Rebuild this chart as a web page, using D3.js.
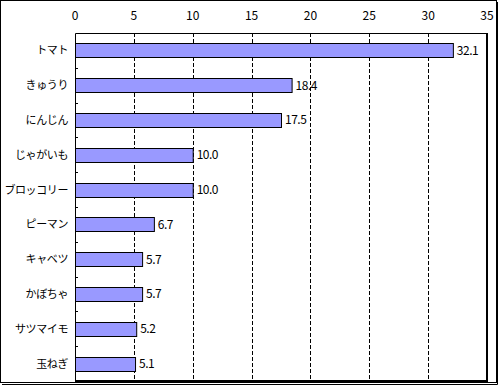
<!DOCTYPE html>
<html>
<head>
<meta charset="utf-8">
<script src="https://cdn.jsdelivr.net/npm/d3@7"></script>
<style>
  body { margin: 0; background: #fff; }
  svg { display: block; font-family: "Noto Sans CJK JP", sans-serif; }
</style>
</head>
<body>
<svg id="chart" width="500" height="385"></svg>
<script>
const categories = ["トマト", "きゅうり", "にんじん", "じゃがいも", "ブロッコリー", "ピーマン", "キャベツ", "かぼちゃ", "サツマイモ", "玉ねぎ"];
const values = [32.1, 18.4, 17.5, 10.0, 10.0, 6.7, 5.7, 5.7, 5.2, 5.1];
const xTicks = [0, 5, 10, 15, 20, 25, 30, 35];

const data = categories.map((c, i) => ({ name: c, value: values[i] }));

const svg = d3.select("#chart");

// outer frame with shadow on right/bottom
svg.append("rect")
  .attr("x", 0.5).attr("y", 0.5)
  .attr("width", 496).attr("height", 382)
  .attr("fill", "#fff").attr("stroke", "#000");
svg.append("path")
  .attr("d", "M497.5,2V384.5H2")
  .attr("fill", "none").attr("stroke", "#000");

const plotL = 75, plotT = 33, plotR = 487, plotB = 381;

const x = d3.scaleLinear().domain([0, 35]).range([plotL, plotR]);
const y = d3.scaleBand()
  .domain(categories)
  .range([plotT, plotB])
  .paddingInner(0.6)
  .paddingOuter(0.3);

// dashed gridlines
svg.append("g")
  .selectAll("line")
  .data(xTicks.slice(1, -1))
  .join("line")
  .attr("x1", d => Math.round(x(d)) + 0.5)
  .attr("x2", d => Math.round(x(d)) + 0.5)
  .attr("y1", plotT).attr("y2", plotB)
  .attr("stroke", "#000")
  .attr("stroke-dasharray", "4,2");

// top axis labels
svg.append("g")
  .selectAll("text")
  .data(xTicks)
  .join("text")
  .attr("x", d => x(d))
  .attr("y", 20)
  .attr("text-anchor", "middle")
  .attr("font-size", 12)
  .text(d => d);

// category ticks between bands, inside plot
const step = y.step();
svg.append("g")
  .selectAll("line")
  .data(d3.range(1, categories.length))
  .join("line")
  .attr("x1", plotL).attr("x2", plotL + 3)
  .attr("y1", i => Math.round(plotT + step * i) + 0.5)
  .attr("y2", i => Math.round(plotT + step * i) + 0.5)
  .attr("stroke", "#000");

// bars
svg.append("g")
  .selectAll("rect")
  .data(data)
  .join("rect")
  .attr("x", x(0) + 0.5)
  .attr("y", d => Math.round(y(d.name)) + 0.5)
  .attr("width", d => x(d.value) - x(0))
  .attr("height", Math.round(y.bandwidth()))
  .attr("fill", "#9999ff")
  .attr("stroke", "#000");

// value labels
svg.append("g")
  .selectAll("text")
  .data(data)
  .join("text")
  .attr("x", d => x(d.value) + 4)
  .attr("y", d => y(d.name) + y.bandwidth() / 2)
  .attr("dy", "0.36em")
  .attr("font-size", 12)
  .attr("letter-spacing", "-0.5")
  .text(d => d.value.toFixed(1));

// category labels
svg.append("g")
  .selectAll("text")
  .data(data)
  .join("text")
  .attr("x", 68)
  .attr("y", d => y(d.name) + y.bandwidth() / 2)
  .attr("dy", "0.36em")
  .attr("text-anchor", "end")
  .attr("font-size", 11)
  .attr("letter-spacing", "-0.4")
  .text(d => d.name);

// plot frame
svg.append("path")
  .attr("d", `M${plotL + 0.5},${plotB}V${plotT + 0.5}H${plotR}`)
  .attr("fill", "none").attr("stroke", "#000");
svg.append("path")
  .attr("d", `M${plotR},${plotT}V${plotB}H${plotL}`)
  .attr("fill", "none").attr("stroke", "#000").attr("stroke-width", 2);
</script>
</body>
</html>
